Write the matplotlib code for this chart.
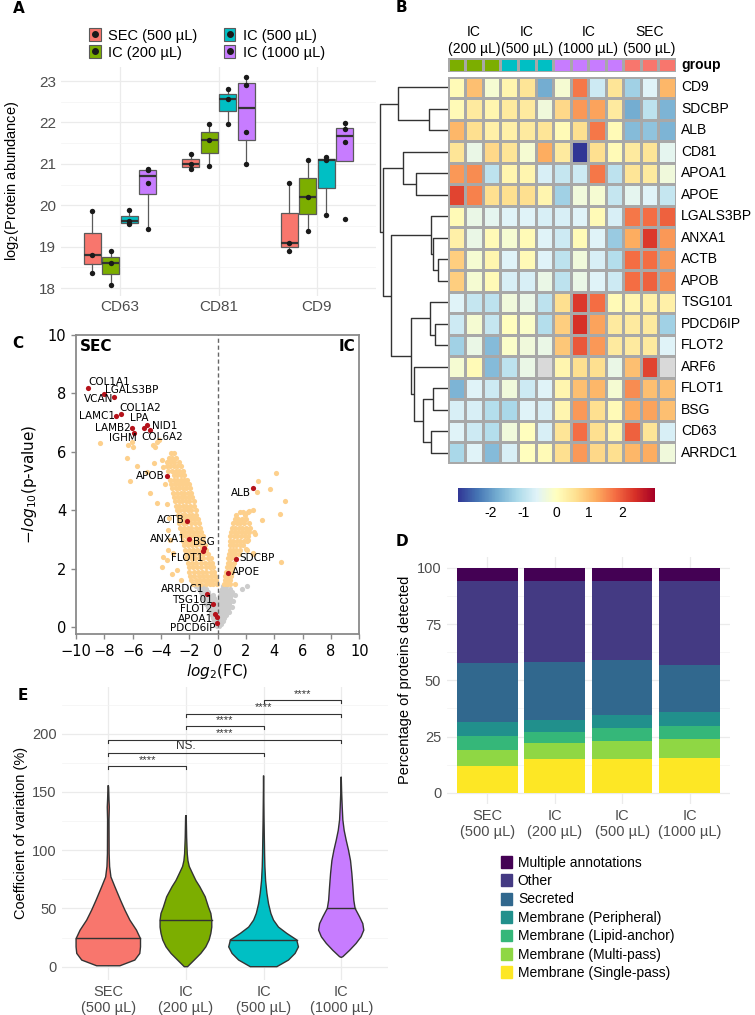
import numpy as np
import matplotlib
matplotlib.use('Agg')
import matplotlib.pyplot as plt
from matplotlib.patches import Patch
from matplotlib.lines import Line2D
from matplotlib.legend_handler import HandlerTuple
from matplotlib.colors import ListedColormap, Normalize
import matplotlib.cm as cm

plt.rcParams['font.family'] = ['Liberation Sans', 'DejaVu Sans']

W, H = 755, 1015
GREY_TXT = '#4d4d4d'

# ---------------- data ----------------
group_names = ['SEC (500 µL)', 'IC (200 µL)', 'IC (500 µL)', 'IC (1000 µL)']
group_colors = ['#F8766D', '#7CAE00', '#00BFC4', '#C77CFF']
group_ticks = ['SEC\n(500 µL)', 'IC\n(200 µL)', 'IC\n(500 µL)', 'IC\n(1000 µL)']

# A: log2 abundance, per group (SEC, IC200, IC500, IC1000)
markers = ['CD63', 'CD81', 'CD9']
cd63_vals = [[18.37, 18.80, 19.86], [18.07, 18.61, 18.89], [19.55, 19.61, 19.88], [19.42, 20.54, 20.85, 20.88]]
cd81_vals = [[20.87, 21.00, 21.23], [20.96, 21.57, 21.97], [21.96, 22.57, 22.82], [21.00, 21.78, 22.90, 23.10]]
cd9_vals = [[18.89, 19.10, 20.54], [19.38, 20.21, 21.10], [19.76, 21.09, 21.16], [19.68, 21.52, 21.84, 21.98]]

# B: heatmap (z-scores), columns IC200 x3, IC500 x3, IC1000 x4, SEC x3
heat_rows = ['CD9', 'SDCBP', 'ALB', 'CD81', 'APOA1', 'APOE', 'LGALS3BP', 'ANXA1', 'ACTB',
             'APOB', 'TSG101', 'PDCD6IP', 'FLOT2', 'ARF6', 'FLOT1', 'BSG', 'CD63', 'ARRDC1']
nan = np.nan
heat_vals = [
    [0.1, 1.0, -0.2, 0.2, 0.5, -1.8, -0.2, 1.7, -0.8, 0.5, -1.3, -0.6, 1.1],
    [0.1, 0.4, 0.2, 0.4, 0.4, -0.3, 0.7, 1.4, 1.3, 0.4, -1.8, -1.0, -1.7],
    [1.1, 0.6, 0.3, 0.3, 0.4, 0.5, 0.1, 0.6, 1.7, 0.1, -1.6, -1.5, -1.7],
    [0.5, -0.4, 0.7, 0.5, -0.2, 1.2, 0.4, -3.0, 0.6, 0.1, 0.4, 0.5, -0.5],
    [1.4, 1.5, -1.0, 0.2, 0.2, -0.7, -0.9, -0.8, 1.7, -1.0, 0.5, 0.4, -0.3],
    [2.2, 1.6, 0.6, 0.6, 0.6, 0.2, -1.3, -0.3, -0.2, -0.9, -0.5, -0.6, -0.9],
    [0.1, -0.4, -0.5, -0.6, -0.6, -0.7, -0.7, -0.6, 0.1, -0.7, 1.7, 1.8, 1.9],
    [0.3, -0.4, 0.1, -0.2, 0.1, -0.6, -0.8, 0.1, -0.6, -1.4, 1.2, 2.3, 1.4],
    [0.8, -0.2, 0.2, -0.6, 0.1, -0.6, -1.0, -0.3, -0.7, -1.1, 1.8, 1.8, 1.4],
    [0.8, -0.2, 0.1, -0.7, -0.7, -0.4, -1.0, -0.4, -0.6, -0.8, 1.8, 1.9, 1.5],
    [-0.6, -0.9, -1.0, -0.3, -0.4, -1.0, 0.6, 2.3, 1.8, 0.1, 0.2, 0.3, 0.3],
    [-0.8, -0.2, -0.9, 0.0, -0.1, -1.1, 0.8, 2.4, 1.3, 0.4, 0.4, 0.4, -1.3],
    [-1.3, -0.4, -1.6, -0.1, -0.3, -0.4, 0.9, 2.0, 1.4, 0.4, 0.4, 0.4, -0.6],
    [-0.2, 0.1, -1.6, -1.0, -0.4, nan, 0.2, 0.6, 0.6, -0.4, 1.0, 2.2, nan],
    [-1.7, -0.6, -0.8, -0.3, -0.8, -0.6, 0.2, 1.0, 1.1, -0.2, 1.5, 1.0, 1.0],
    [-0.7, -0.7, -1.1, -1.2, -0.6, -0.7, 0.2, 1.4, 0.6, 0.1, 1.2, 1.3, 1.0],
    [-0.6, -0.8, -1.1, -0.3, 0.0, -0.7, 0.5, 1.8, 0.6, 0.2, 1.9, 0.5, -0.7],
    [-1.2, -0.6, -1.6, -0.7, 0.0, 0.1, 0.6, 1.4, 0.7, 0.6, 1.1, 1.2, -0.3],
]
heat_col_group = [1, 1, 1, 2, 2, 2, 3, 3, 3, 3, 0, 0, 0]
heat_headers = [('IC', '(200 µL)'), ('IC', '(500 µL)'), ('IC', '(1000 µL)'), ('SEC', '(500 µL)')]
heat_header_cols = [3, 3, 4, 3]
# row dendrogram merges: (left, right, height); new nodes numbered from 18
dendro_merges = [(1, 2, 55), (0, 18, 150), (4, 5, 95), (3, 20, 135), (8, 9, 28), (7, 22, 45),
                 (6, 23, 50), (11, 12, 37), (10, 25, 52), (16, 17, 50), (14, 15, 45), (28, 27, 75),
                 (13, 29, 102), (26, 30, 110), (24, 31, 170), (21, 32, 195), (19, 33, 203)]

# C: volcano, left significant band rows (y, x values)
sec_band_rows = [
    (5.95, [-3.3, -3.05]), (5.80, [-3.45, -3.2, -2.95]), (5.65, [-3.55, -3.3, -3.05, -2.75]),
    (5.50, [-3.6, -3.35, -3.1, -2.85, -2.6]), (5.35, [-3.5, -3.2, -2.95, -2.7, -2.45]),
    (5.20, [-3.1, -2.85, -2.6, -2.35]), (5.05, [-3.35, -3.1, -2.85, -2.6, -2.35, -2.15]),
    (4.90, [-3.3, -3.0, -2.75, -2.5, -2.25, -2.05]), (4.75, [-3.2, -2.95, -2.7, -2.45, -2.2, -1.95]),
    (4.60, [-3.15, -2.9, -2.6, -2.35, -2.1, -1.85]), (4.45, [-3.05, -2.8, -2.55, -2.3, -2.05, -1.8]),
    (4.30, [-3.0, -2.75, -2.5, -2.25, -2.0, -1.7]), (4.15, [-2.95, -2.7, -2.45, -2.2, -1.95, -1.65]),
    (4.00, [-2.9, -2.65, -2.4, -2.1, -1.85, -1.55]), (3.85, [-2.8, -2.55, -2.3, -2.05, -1.8, -1.5]),
    (3.70, [-2.75, -2.5, -2.25, -1.95, -1.7, -1.4]), (3.55, [-2.7, -2.45, -2.2, -1.9, -1.6, -1.3]),
    (3.40, [-2.65, -2.4, -2.1, -1.85, -1.55, -1.25]), (3.25, [-2.55, -2.3, -2.05, -1.75, -1.45, -1.15]),
    (3.10, [-2.5, -2.25, -1.95, -1.7, -1.4, -1.05]), (2.95, [-2.45, -2.15, -1.9, -1.6, -1.3, -1.0]),
    (2.80, [-2.4, -2.1, -1.8, -1.5, -1.2, -0.9]), (2.65, [-2.3, -2.0, -1.75, -1.45, -1.15, -0.8]),
    (2.50, [-2.25, -1.95, -1.65, -1.35, -1.05, -0.7]), (2.35, [-2.2, -1.9, -1.6, -1.3, -1.0, -0.65, -0.45]),
    (2.20, [-2.1, -1.8, -1.5, -1.2, -0.9, -0.6, -0.4]), (2.05, [-2.05, -1.75, -1.45, -1.15, -0.85, -0.55, -0.3]),
    (1.90, [-2.0, -1.7, -1.4, -1.1, -0.8, -0.5, -0.25]), (1.75, [-1.95, -1.65, -1.35, -1.05, -0.75, -0.45, -0.18]),
    (1.60, [-1.85, -1.55, -1.25, -0.95, -0.65, -0.4, -0.12]), (1.47, [-1.75, -1.45, -1.15, -0.85, -0.55, -0.3, -0.06]),
]
sec_scatter = [(-8.31, 6.29), (-6.31, 6.23), (-6.07, 6.35), (-6.0, 6.18), (-6.42, 5.78), (-5.72, 5.52),
               (-6.19, 5.0), (-5.01, 5.32), (-4.42, 6.17), (-4.3, 6.35), (-4.12, 6.4), (-4.54, 6.23),
               (-4.47, 5.6), (-3.95, 5.72), (-3.84, 5.49), (-4.78, 4.58), (-4.3, 4.23), (-3.49, 3.32),
               (-3.37, 2.97), (-3.95, 2.06), (-3.6, 2.29), (-3.13, 2.52), (-3.49, 2.63), (-2.89, 1.95),
               (-3.84, 2.4), (-3.2, 1.8), (-3.7, 4.9), (-3.6, 4.2), (-3.45, 3.75), (-2.6, 1.6)]
ic_band_rows = [
    (3.95, [1.57, 1.8, 2.16]), (3.85, [1.3, 1.9]), (3.70, [1.2, 1.45, 1.7, 2.0]),
    (3.55, [1.1, 1.35, 1.6, 1.85, 2.2]), (3.40, [1.0, 1.25, 1.5, 1.75, 2.0, 2.3]),
    (3.25, [0.95, 1.2, 1.45, 1.7, 1.95, 2.2, 2.6]), (3.10, [0.9, 1.15, 1.4, 1.65, 1.9, 2.15]),
    (2.95, [0.9, 1.1, 1.35, 1.6, 1.85, 2.1]), (2.80, [0.85, 1.05, 1.3, 1.55, 1.8]),
    (2.65, [0.85, 1.05, 1.3, 1.55, 2.05]), (2.50, [0.8, 1.0, 1.25, 1.5, 2.5]),
    (2.35, [0.75, 0.95, 1.2]), (2.20, [0.7, 0.9, 1.15]), (2.05, [0.65, 0.85, 1.05]),
    (1.90, [0.6, 0.8, 1.0]), (1.75, [0.55, 0.75, 0.95]), (1.60, [0.5, 0.7, 0.9]),
    (1.48, [0.45, 0.65, 0.85, 1.2]),
]
ic_scatter = [(4.11, 5.28), (2.87, 5.0), (2.75, 4.63), (3.69, 4.72), (4.75, 4.31), (4.4, 3.86),
              (3.15, 3.66), (2.51, 4.0), (2.2, 3.98), (4.47, 2.21), (2.0, 2.66), (2.51, 2.55),
              (2.63, 3.2), (2.16, 3.32), (2.16, 2.97)]
ns_rows = [
    (1.40, [-1.5, -1.25, -1.0, 0.35, 0.6, 2.05]), (1.30, [-1.3, -1.05, -0.8, 0.3, 0.55, 0.85, 1.74]),
    (1.20, [-1.2, -0.95, -0.7, 0.25, 0.5, 0.75, 1.0]), (1.10, [-1.1, -0.85, -0.6, -0.35, 0.2, 0.45, 0.7, 0.95, 1.2]),
    (1.00, [-1.0, -0.75, -0.5, -0.25, 0.15, 0.4, 0.65, 0.9]), (0.90, [-0.9, -0.65, -0.45, -0.2, 0.1, 0.35, 0.6, 0.85, 1.1]),
    (0.80, [-0.8, -0.55, -0.35, 0.05, 0.3, 0.55, 0.8]), (0.70, [-0.7, -0.5, -0.3, -0.1, 0.1, 0.3, 0.5, 0.75, 1.0]),
    (0.60, [-0.6, -0.4, -0.2, 0.05, 0.25, 0.45, 0.7]), (0.50, [-0.5, -0.3, -0.1, 0.1, 0.3, 0.5, 0.8]),
    (0.40, [-0.4, -0.2, 0.0, 0.2, 0.4, 0.6]), (0.30, [-0.35, -0.15, 0.05, 0.25, 0.45]),
    (0.20, [-0.25, -0.05, 0.15, 0.35]), (0.10, [-0.15, 0.05, 0.25]), (0.03, [-0.05, 0.1]),
]
# labelled proteins: name, log2FC, -log10 p, label x, label y, alignment
labelled = [
    ('COL1A1', -9.13, 8.18, -9.15, 8.40, 'left'), ('LGALS3BP', -7.32, 7.89, -7.95, 8.10, 'left'),
    ('VCAN', -8.0, 7.97, -7.39, 7.80, 'right'), ('COL1A2', -6.85, 7.30, -6.94, 7.49, 'left'),
    ('LAMC1', -7.18, 7.22, -7.25, 7.23, 'right'), ('LPA', -5.01, 6.91, -5.52, 7.15, 'center'),
    ('LAMB2', -6.07, 6.83, -6.12, 6.81, 'right'), ('NID1', -4.78, 6.75, -4.62, 6.89, 'left'),
    ('IGHM', -5.91, 6.66, -5.72, 6.46, 'right'), ('COL6A2', -5.2, 6.80, -5.36, 6.52, 'left'),
    ('APOB', -3.56, 5.17, -3.72, 5.17, 'right'), ('ALB', 2.47, 4.75, 2.33, 4.60, 'right'),
    ('ACTB', -2.14, 3.64, -2.31, 3.68, 'right'), ('ANXA1', -2.03, 3.02, -2.26, 3.01, 'right'),
    ('BSG', -0.97, 2.69, -1.76, 2.92, 'left'), ('FLOT1', -1.02, 2.61, -1.02, 2.38, 'right'),
    ('SDCBP', 1.27, 2.33, 1.50, 2.38, 'left'), ('APOE', 0.71, 1.85, 0.99, 1.89, 'left'),
    ('ARRDC1', -0.73, 1.14, -0.92, 1.30, 'right'), ('TSG101', -0.31, 0.78, -0.31, 0.92, 'right'),
    ('FLOT2', -0.19, 0.46, -0.38, 0.60, 'right'), ('APOA1', -0.07, 0.34, -0.31, 0.29, 'right'),
    ('PDCD6IP', -0.07, 0.12, -0.12, -0.05, 'right'),
]

# D: subcellular location percentages (SEC, IC200, IC500, IC1000), bottom to top
loc_names = ['Membrane (Single-pass)', 'Membrane (Multi-pass)', 'Membrane (Lipid-anchor)',
             'Membrane (Peripheral)', 'Secreted', 'Other', 'Multiple annotations']
loc_colors = ['#FDE725', '#8FD744', '#35B779', '#21908C', '#31688E', '#443A83', '#440154']
single_pass = [11.9, 14.9, 14.9, 15.6]
multi_pass = [7.1, 7.0, 8.2, 8.4]
lipid_anchor = [6.3, 4.9, 5.8, 5.6]
peripheral = [6.2, 5.6, 5.8, 6.3]
secreted = [26.2, 25.6, 24.2, 21.1]
other = [36.4, 36.1, 35.2, 37.1]
multiple = [5.9, 5.9, 5.9, 5.9]

# E: violin outlines (CV level, half width)
sec_cv = [0.8, 5.7, 11.4, 17, 24, 31.4, 40, 48.6, 57, 68.6, 77, 86, 97, 126, 137, 143, 154, 155.7]
sec_hw = [0.15, 0.342, 0.406, 0.415, 0.415, 0.363, 0.278, 0.214, 0.158, 0.085, 0.034, 0.017, 0.011,
          0.009, 0.013, 0.009, 0.004, 0.0]
ic200_cv = [0, 5.7, 11.4, 17, 23, 28.6, 34, 40, 45.7, 51, 60, 68.6, 74, 80, 86, 91, 97, 111, 128.6, 130]
ic200_hw = [0.021, 0.107, 0.192, 0.256, 0.299, 0.321, 0.333, 0.333, 0.321, 0.291, 0.248, 0.179, 0.128,
            0.085, 0.043, 0.026, 0.017, 0.009, 0.004, 0.0]
ic500_cv = [0, 5.7, 11.4, 17, 23, 28.6, 34, 40, 45.7, 54, 63, 74, 86, 97, 126, 164]
ic500_hw = [0.171, 0.321, 0.406, 0.449, 0.427, 0.299, 0.192, 0.128, 0.094, 0.064, 0.043, 0.026, 0.017,
            0.013, 0.006, 0.0]
ic1000_cv = [8, 8.6, 14, 20, 25.7, 31.4, 37, 43, 50, 57, 68.6, 80, 91, 100, 108.6, 117, 126, 137, 148.6, 163]
ic1000_hw = [0.0, 0.021, 0.107, 0.192, 0.256, 0.291, 0.278, 0.235, 0.179, 0.162, 0.150, 0.137, 0.120,
             0.094, 0.064, 0.038, 0.021, 0.013, 0.006, 0.0]
cv_medians = [24.3, 40.0, 22.9, 50.0]
brackets = [(1, 2, 172, '****'), (1, 3, 183.4, 'NS.'), (1, 4, 194.9, '****'),
            (2, 3, 206.3, '****'), (2, 4, 217.1, '****'), (3, 4, 229.1, '****')]


# ---------------- helpers ----------------
def rect(l, t, r, b):
    return [l / W, 1 - b / H, (r - l) / W, (b - t) / H]


def gg_minimal(ax, size=10.5):
    for s in ax.spines.values():
        s.set_visible(False)
    ax.tick_params(which='both', length=0, colors=GREY_TXT, labelsize=size)
    ax.grid(True, which='major', color='#ebebeb', lw=0.9)
    ax.grid(True, which='minor', axis='y', color='#f3f3f3', lw=0.5)
    ax.set_axisbelow(True)


fig = plt.figure(figsize=(W / 100, H / 100), dpi=100)

# ---------------- A ----------------
axa = fig.add_axes(rect(61, 67, 376, 295.5))
for i, vals in enumerate([cd63_vals, cd81_vals, cd9_vals]):
    for g, v in enumerate(vals):
        pos = i + 1 + (g - 1.5) * 0.1875
        axa.boxplot(v, positions=[pos], widths=0.17, patch_artist=True, showfliers=False,
                    showcaps=False, manage_ticks=False,
                    boxprops=dict(facecolor=group_colors[g], edgecolor='#5a5a5a', lw=0.9),
                    medianprops=dict(color='#333333', lw=1.6),
                    whiskerprops=dict(color='#5a5a5a', lw=0.9))
        axa.scatter([pos] * len(v), v, s=15, color='#1a1a1a', zorder=4, lw=0)
axa.set_xlim(0.4, 3.6)
axa.set_ylim(17.82, 23.34)
axa.set_xticks([1, 2, 3], markers)
axa.set_yticks(range(18, 24))
axa.set_yticks(np.arange(18.5, 23, 1), minor=True)
gg_minimal(axa, 11)
axa.set_ylabel('log$_2$(Protein abundance)', fontsize=10.5)
axa.yaxis.set_label_coords(-0.128, 0.5)
handles = [(Patch(facecolor=c, edgecolor='#5a5a5a', lw=0.8),
            Line2D([], [], marker='o', ls='', color='#1a1a1a', ms=4)) for c in group_colors]
axa.legend(handles, group_names, handler_map={tuple: HandlerTuple(ndivide=1)}, ncol=2,
           loc='center', bbox_to_anchor=(207 / W, 1 - 44 / H), bbox_transform=fig.transFigure,
           frameon=False, fontsize=10.5, handlelength=0.8, handleheight=1.0, columnspacing=1.8,
           labelspacing=0.15, handletextpad=0.5)

# ---------------- B ----------------
cmap = plt.get_cmap('RdYlBu_r').copy()
cmap.set_bad('#d9d9d9')
axh = fig.add_axes(rect(447.7, 76.7, 676, 463.5))
axh.pcolormesh(np.ma.masked_invalid(np.array(heat_vals)), cmap=cmap, vmin=-3, vmax=3,
               edgecolors='#a8a8a8', linewidth=0.8)
axh.set_xlim(0, 13)
axh.set_ylim(18, 0)
axh.axis('off')
for i, name in enumerate(heat_rows):
    axh.text(13.3, i + 0.5, name, va='center', ha='left', fontsize=10)

axg = fig.add_axes(rect(447.7, 58, 676, 72))
axg.pcolormesh([heat_col_group], cmap=ListedColormap(group_colors), vmin=-0.5, vmax=3.5,
               edgecolors='#a8a8a8', linewidth=0.8)
axg.set_xlim(0, 13)
axg.set_ylim(1, 0)
axg.axis('off')
axg.text(13.3, 0.5, 'group', va='center', ha='left', fontsize=10, fontweight='bold')
start = 0
col_w = (676 - 447.7) / 13
for (l1, l2), n in zip(heat_headers, heat_header_cols):
    xc = (447.7 + col_w * (start + n / 2)) / W
    fig.text(xc, 1 - 32 / H, l1, ha='center', va='center', fontsize=10)
    fig.text(xc, 1 - 49 / H, l2, ha='center', va='center', fontsize=10)
    start += n

axd = fig.add_axes(rect(378, 76.7, 447.7, 463.5))
node_pos = {i: (0.0, i + 0.5) for i in range(len(heat_rows))}
for k, (a, b, h) in enumerate(dendro_merges):
    ha_, ya = node_pos[a]
    hb, yb = node_pos[b]
    axd.plot([ha_, h, h, hb], [ya, ya, yb, yb], color='#333333', lw=1.0, solid_capstyle='butt')
    node_pos[len(heat_rows) + k] = (h, (ya + yb) / 2)
axd.set_xlim(209, 0)
axd.set_ylim(18, 0)
axd.axis('off')

axcb = fig.add_axes(rect(457.7, 488, 655, 501.7))
cb = fig.colorbar(cm.ScalarMappable(norm=Normalize(-3, 3), cmap=cmap), cax=axcb, orientation='horizontal')
cb.outline.set_visible(False)
cb.set_ticks([-2, -1, 0, 1, 2])
cb.set_ticklabels(['-2', '-1', '0', '1', '2'])
axcb.tick_params(length=0, labelsize=10, pad=3)

# ---------------- C ----------------
axc = fig.add_axes(rect(76, 335, 359.3, 634.3))
ns_x = [x for y, xs in ns_rows for x in xs]
ns_y = [y for y, xs in ns_rows for x in xs]
up_x = [x for y, xs in sec_band_rows + ic_band_rows for x in xs] + [p[0] for p in sec_scatter + ic_scatter]
up_y = [y for y, xs in sec_band_rows + ic_band_rows for x in xs] + [p[1] for p in sec_scatter + ic_scatter]
axc.scatter(ns_x, ns_y, s=14, color='#cccccc', lw=0, zorder=2)
axc.scatter(up_x, up_y, s=14, color='#fdd08c', lw=0, zorder=2)
axc.scatter([p[1] for p in labelled], [p[2] for p in labelled], s=14, color='#b5121b', lw=0, zorder=4)
for name, x, y, tx, ty, ha in labelled:
    axc.text(tx, ty, name, ha=ha, va='center', fontsize=7.5, family='DejaVu Sans', zorder=5)
axc.axvline(0, ls='--', color='#666666', lw=1.0, dashes=(3, 2), zorder=3)
axc.set_xlim(-10, 10)
axc.set_ylim(-0.25, 10)
axc.set_xticks(range(-10, 11, 2))
axc.set_yticks(range(0, 11, 2))
for s in axc.spines.values():
    s.set_color('#8a8a8a')
    s.set_linewidth(1.3)
axc.tick_params(colors='#8a8a8a', labelcolor='black', labelsize=10.5, length=3.5, width=1)
for lab in axc.get_xticklabels() + axc.get_yticklabels():
    lab.set_family('DejaVu Sans')
axc.set_xlabel('$log_2$(FC)', fontsize=11, family='DejaVu Sans', labelpad=2)
axc.set_ylabel('$-log_{10}$(p-value)', fontsize=11, family='DejaVu Sans', labelpad=6)
axc.text(0.015, 0.985, 'SEC', transform=axc.transAxes, ha='left', va='top', fontsize=11,
         fontweight='bold', family='DejaVu Sans')
axc.text(0.985, 0.985, 'IC', transform=axc.transAxes, ha='right', va='top', fontsize=11,
         fontweight='bold', family='DejaVu Sans')

# ---------------- D ----------------
axD = fig.add_axes(rect(446.7, 556.5, 730, 804))
bottom = np.zeros(4)
for vals, col in zip([single_pass, multi_pass, lipid_anchor, peripheral, secreted, other, multiple], loc_colors):
    axD.bar(np.arange(1, 5), vals, bottom=bottom, width=0.9, color=col, zorder=2)
    bottom += np.array(vals)
axD.set_xlim(0.4, 4.6)
axD.set_ylim(-5, 105)
axD.set_xticks(np.arange(1, 5), group_ticks)
axD.set_yticks([0, 25, 50, 75, 100])
axD.set_yticks([12.5, 37.5, 62.5, 87.5], minor=True)
gg_minimal(axD, 10.5)
axD.tick_params(axis='y', pad=4)
axD.set_ylabel('Percentage of proteins detected', fontsize=10.5)
axD.yaxis.set_label_coords(-0.122, 0.5)
fig.legend([Patch(color=c) for c in loc_colors[::-1]], loc_names[::-1], loc='upper left',
           bbox_to_anchor=(488 / W, 1 - 843 / H), frameon=False, fontsize=10,
           handlelength=0.85, handleheight=0.95, labelspacing=0.32, handletextpad=0.4)

# ---------------- E ----------------
axE = fig.add_axes(rect(61.7, 686.7, 387.8, 980.1))
violins = [(sec_cv, sec_hw), (ic200_cv, ic200_hw), (ic500_cv, ic500_hw), (ic1000_cv, ic1000_hw)]
for g, (cv, hw) in enumerate(violins):
    c = g + 1
    cv = np.array(cv)
    hw = np.array(hw)
    axE.fill(np.concatenate([c - hw, (c + hw)[::-1]]), np.concatenate([cv, cv[::-1]]),
             facecolor=group_colors[g], edgecolor='#333333', lw=1.0, zorder=2)
    m = cv_medians[g]
    h = np.interp(m, cv, hw)
    axE.plot([c - h, c + h], [m, m], color='#333333', lw=1.0, zorder=3)
for i, j, y, lab in brackets:
    axE.plot([i, i, j, j], [y - 2.5, y, y, y - 2.5], color='#333333', lw=0.8, zorder=3)
    axE.text((i + j) / 2, y + 1.0, lab, ha='center', va='bottom', fontsize=8 if lab == '****' else 8.5,
             color='#333333')
axE.set_xlim(0.4, 4.6)
axE.set_ylim(-11.5, 240.3)
axE.set_xticks(np.arange(1, 5), group_ticks)
axE.set_yticks(range(0, 201, 50))
axE.set_yticks(range(25, 240, 50), minor=True)
gg_minimal(axE, 10.5)
axE.set_ylabel('Coefficient of variation (%)', fontsize=10.5)
axE.yaxis.set_label_coords(-0.102, 0.5)

# panel letters
for lab, x, y in [('A', 18.5, 8.3), ('B', 401.5, 7.7), ('C', 18, 343), ('D', 402, 541.7), ('E', 22.5, 696)]:
    fig.text(x / W, 1 - y / H, lab, ha='center', va='center', fontsize=11, fontweight='bold',
             family='DejaVu Sans')

fig.savefig('out.png', dpi=100)
